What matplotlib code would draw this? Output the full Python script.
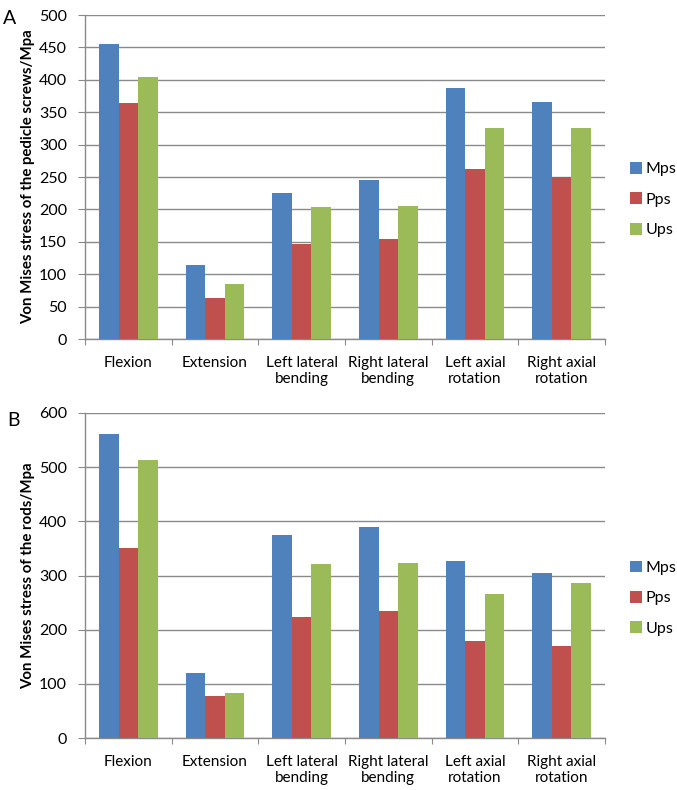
import matplotlib
matplotlib.use("Agg")
import matplotlib.pyplot as plt
import numpy as np
from matplotlib.patches import Patch

categories = ["Flexion", "Extension", "Left lateral\nbending", "Right lateral\nbending",
              "Left axial\nrotation", "Right axial\nrotation"]
series_names = ["Mps", "Pps", "Ups"]
colors = ["#4F81BD", "#C0504D", "#9BBB59"]

screws_mps = [455, 114, 226, 246, 387, 365]
screws_pps = [364, 63, 146, 154, 263, 250]
screws_ups = [405, 85, 203, 206, 326, 326]

rods_mps = [562, 120, 375, 390, 326, 304]
rods_pps = [351, 78, 223, 234, 180, 169]
rods_ups = [514, 83, 322, 324, 266, 287]

plt.rcParams['font.family'] = ['Lato', 'DejaVu Sans']

W, H = 677, 790
fig = plt.figure(figsize=(W / 100, H / 100), dpi=100)

def make_axes(top, bottom, left=85, right=605):
    return fig.add_axes([left / W, 1 - bottom / H, (right - left) / W, (bottom - top) / H])

def draw(ax, data, ymax, step, ylabel, letter, letter_x, letter_y, legend_y):
    n = len(categories)
    x = np.arange(n)
    bw = 0.225
    for i, (vals, c, name) in enumerate(zip(data, colors, series_names)):
        ax.bar(x + (i - 1) * bw, vals, width=bw, color=c, label=name, zorder=3)
    ax.set_xlim(-0.5, n - 0.5)
    ax.set_ylim(0, ymax)
    ax.set_yticks(np.arange(0, ymax + 1, step))
    ax.yaxis.grid(True, color="#8a8a8a", linewidth=1.0, zorder=0)
    ax.set_axisbelow(True)
    for s in ["top", "right"]:
        ax.spines[s].set_visible(False)
    for s in ["left", "bottom"]:
        ax.spines[s].set_color("#8a8a8a")
        ax.spines[s].set_linewidth(1.0)
    ax.set_xticks(np.arange(-0.5, n, 1.0))
    ax.set_xticklabels([])
    ax.set_xticks(x, minor=True)
    ax.set_xticklabels(categories, minor=True, fontsize=11)
    ax.tick_params(axis="x", which="minor", length=0, pad=12)
    ax.tick_params(axis="x", which="major", length=4, color="#8a8a8a")
    ax.tick_params(axis="y", length=5, color="#8a8a8a", labelsize=11.5, pad=8)
    ax.set_ylabel(ylabel, fontsize=10.8, fontweight="bold", labelpad=3)
    handles = [Patch(facecolor=c, label=nm) for c, nm in zip(colors, series_names)]
    ax.legend(handles=handles, loc="center left", bbox_to_anchor=(1.048, legend_y),
              borderaxespad=0, borderpad=0,
              frameon=False, fontsize=11.5, handlelength=0.75, handleheight=0.75,
              handletextpad=0.25, labelspacing=1.0)
    ax.text(letter_x, letter_y, letter, transform=ax.transAxes, fontsize=14,
            va="center", ha="left")

ax1 = make_axes(15, 339)
draw(ax1, [screws_mps, screws_pps, screws_ups], 500, 50,
     "Von Mises stress of the pedicle screws/Mpa", "A", -0.158, 0.99, 0.43)

ax2 = make_axes(413, 738)
draw(ax2, [rods_mps, rods_pps, rods_ups], 600, 100,
     "Von Mises stress of the rods/Mpa", "B", -0.15, 0.978, 0.43)

fig.savefig("out.png", dpi=100)
